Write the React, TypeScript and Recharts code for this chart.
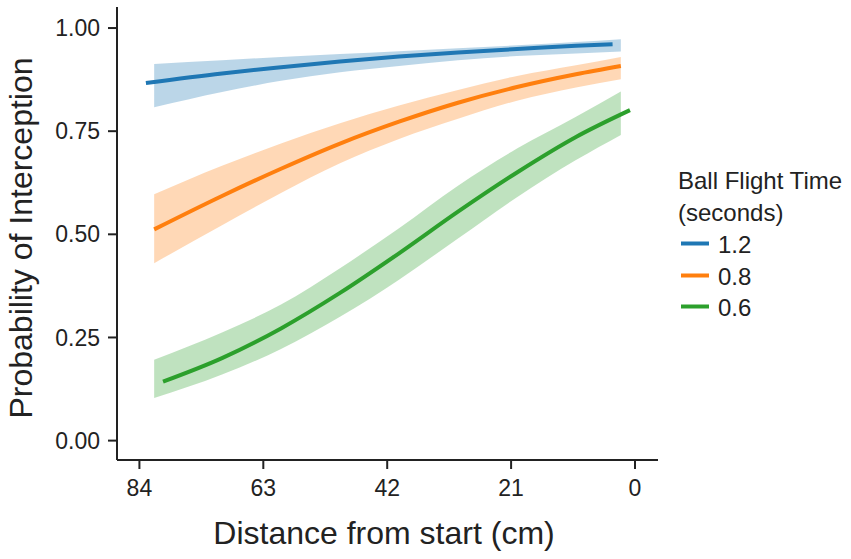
import { ComposedChart, Area, Line, XAxis, YAxis } from "recharts";

// distance from start (cm) where the confidence ribbons are drawn
const bandDist = [81.5, 70, 60, 50, 40, 30, 20, 10, 2.4];

// fitted line x positions per flight time
const blueDist = [82.9, 70, 60, 50, 40, 30, 20, 10, 3.8];
const orangeDist = [81.5, 70, 60, 50, 40, 30, 20, 10, 2.4];
const greenDist = [80, 70, 60, 50, 40, 30, 20, 10, 0.85];

// fitted probability of interception
const blueLine = [0.867, 0.89, 0.905, 0.919, 0.931, 0.941, 0.949, 0.957, 0.961];
const orangeLine = [0.512, 0.593, 0.659, 0.72, 0.773, 0.819, 0.857, 0.888, 0.908];
const greenLine = [0.143, 0.2, 0.272, 0.358, 0.454, 0.555, 0.65, 0.736, 0.801];

// ribbon bounds
const blueLow = [0.808, 0.845, 0.872, 0.893, 0.908, 0.922, 0.932, 0.938, 0.943];
const blueHigh = [0.913, 0.922, 0.93, 0.937, 0.944, 0.951, 0.958, 0.966, 0.973];
const orangeLow = [0.43, 0.522, 0.6, 0.672, 0.731, 0.78, 0.824, 0.856, 0.876];
const orangeHigh = [0.597, 0.666, 0.72, 0.769, 0.812, 0.85, 0.884, 0.91, 0.93];
const greenLow = [0.103, 0.16, 0.222, 0.3, 0.39, 0.49, 0.59, 0.68, 0.741];
const greenHigh = [0.196, 0.262, 0.33, 0.418, 0.515, 0.618, 0.708, 0.785, 0.846];

const flightTimes = ["1.2", "0.8", "0.6"];
const colors = ["#1f77b4", "#ff7f0e", "#2ca02c"];
const xTicks = [84, 63, 42, 21, 0];
const yTicks = [0, 0.25, 0.5, 0.75, 1];

const lineDists = [blueDist, orangeDist, greenDist];
const lineVals = [blueLine, orangeLine, greenLine];
const lows = [blueLow, orangeLow, greenLow];
const highs = [blueHigh, orangeHigh, greenHigh];

const series = flightTimes.map((name, i) => ({
  name,
  color: colors[i],
  line: lineDists[i].map((d, j) => ({ d, p: lineVals[i][j] })),
  band: bandDist.map((d, j) => ({ d, band: [lows[i][j], highs[i][j]] })),
}));

const font = "'Liberation Sans', Arial, Helvetica, sans-serif";
const ink = "#222";

function FlightLegend() {
  return (
    <div
      style={{
        position: "absolute",
        left: 678,
        top: 165,
        fontFamily: font,
        fontSize: 24,
        lineHeight: "32px",
        color: ink,
        whiteSpace: "nowrap",
      }}
    >
      <div>Ball Flight Time</div>
      <div>(seconds)</div>
      {series.map((s) => (
        <div key={s.name} style={{ display: "flex", height: 31.5 }}>
          <svg width={40} height={31.5}>
            <line x1={3} x2={31} y1={14.5} y2={14.5} stroke={s.color} strokeWidth={4} />
          </svg>
          <span>{s.name}</span>
        </div>
      ))}
    </div>
  );
}

export default function App() {
  return (
    <div style={{ position: "relative", width: 851, height: 559 }}>
      <style>{"body{margin:0}"}</style>
      <ComposedChart
        width={851}
        height={559}
        margin={{ top: 7, right: 193, bottom: 0, left: 0 }}
      >
        <XAxis
          dataKey="d"
          type="number"
          domain={[-3.9, 87.8]}
          reversed
          allowDataOverflow
          ticks={xTicks}
          height={99}
          tickSize={9}
          tickMargin={11}
          axisLine={{ stroke: ink, strokeWidth: 2 }}
          tickLine={{ stroke: ink, strokeWidth: 2 }}
          tick={{ fill: ink, fontSize: 23, fontFamily: font }}
          label={() => (
            <text
              x={384}
              y={544}
              textAnchor="middle"
              fontSize={32}
              fontFamily={font}
              fill={ink}
            >
              Distance from start (cm)
            </text>
          )}
        />
        <YAxis
          type="number"
          domain={[-0.047, 1.051]}
          allowDataOverflow
          ticks={yTicks}
          width={117}
          tickSize={9}
          tickMargin={8}
          tickFormatter={(v: number) => v.toFixed(2)}
          axisLine={{ stroke: ink, strokeWidth: 2 }}
          tickLine={{ stroke: ink, strokeWidth: 2 }}
          tick={{ fill: ink, fontSize: 23, fontFamily: font }}
          label={() => (
            <text
              x={32}
              y={238}
              transform="rotate(-90 32 238)"
              textAnchor="middle"
              fontSize={32}
              fontFamily={font}
              fill={ink}
            >
              Probability of Interception
            </text>
          )}
        />
        {series.map((s) => (
          <Area
            key={"band" + s.name}
            data={s.band}
            dataKey="band"
            type="monotone"
            stroke="none"
            fill={s.color}
            fillOpacity={0.3}
            isAnimationActive={false}
          />
        ))}
        {series.map((s) => (
          <Line
            key={"line" + s.name}
            data={s.line}
            dataKey="p"
            name={s.name}
            type="monotone"
            stroke={s.color}
            strokeWidth={4}
            dot={false}
            activeDot={false}
            isAnimationActive={false}
          />
        ))}
      </ComposedChart>
      <FlightLegend />
    </div>
  );
}
